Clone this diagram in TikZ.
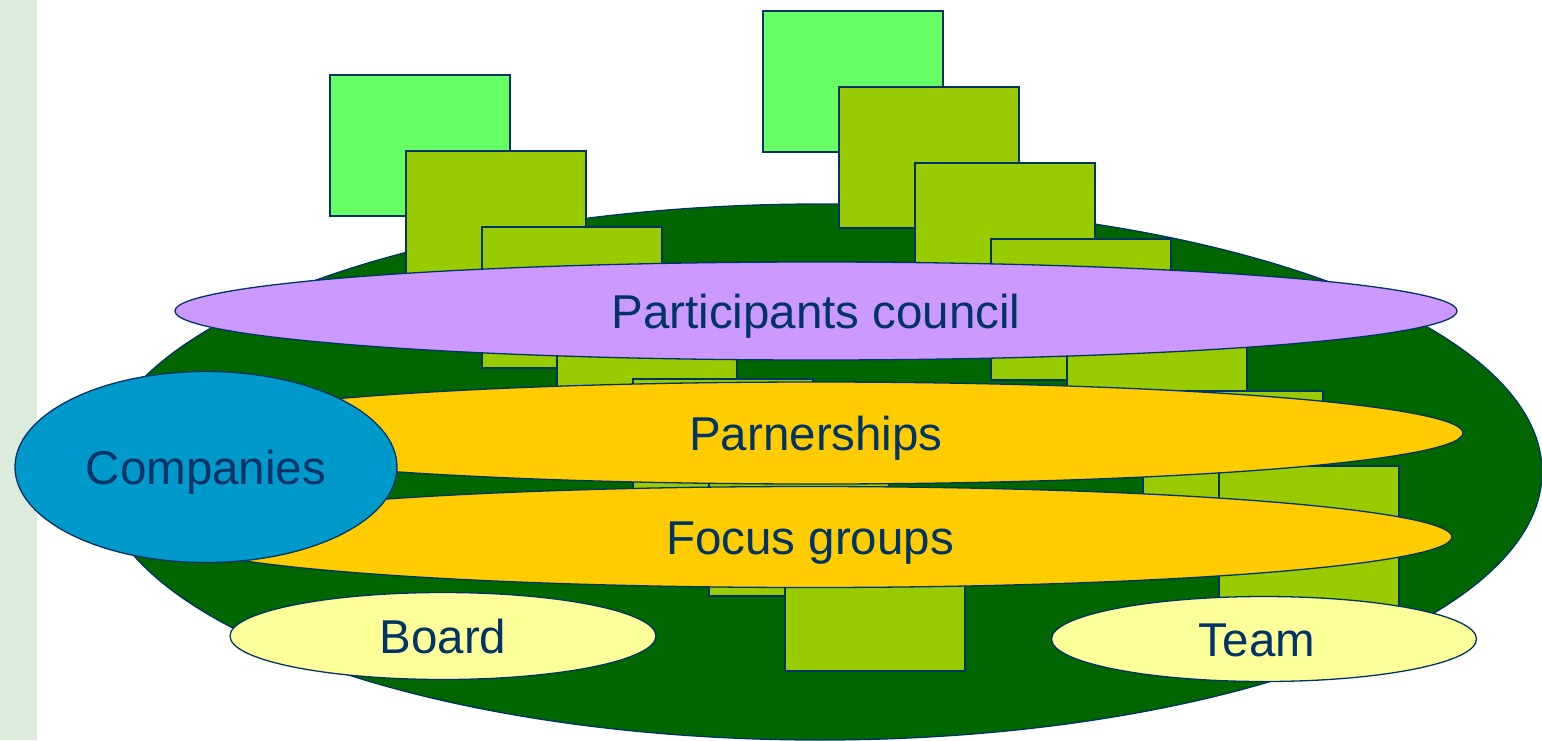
\documentclass[tikz,border=0pt]{standalone}
\usepackage{fontspec}
\setmainfont{Liberation Sans}
\usetikzlibrary{shapes.geometric}
\definecolor{lgreen}{HTML}{66FF66}
\definecolor{ygreen}{HTML}{99CC00}
\definecolor{dgreen}{HTML}{006600}
\definecolor{lilac}{HTML}{CC99FF}
\definecolor{gold}{HTML}{FFCC00}
\definecolor{cblue}{HTML}{0099CC}
\definecolor{lyellow}{HTML}{FFFF99}
\definecolor{navy}{HTML}{003366}
\definecolor{strip}{HTML}{DCEBDC}
\tikzset{
  box/.style={draw=navy, line width=1.3pt, rectangle, anchor=north west, minimum width=180pt, minimum height=141pt, inner sep=0pt, outer sep=0pt},
  lbox/.style={box, fill=lgreen},
  ybox/.style={box, fill=ygreen},
  oval/.style={draw=navy, line width=1.3pt, ellipse, inner sep=0pt, outer sep=0pt, text=navy, font=\fontsize{47.5}{57}\selectfont, text height=34pt, text depth=0pt},
}
\begin{document}
\begin{tikzpicture}[x=1pt,y=-1pt]
\useasboundingbox (0,0) rectangle (1542,740);
\fill[white] (0,0) rectangle (1542,740);
\fill[strip] (0,0) rectangle (37,740);
% big dark green ellipse
\node[oval, fill=dgreen, minimum width=1444pt, minimum height=536pt] (base) at (820,472) {};
% left cascade
\node[lbox] (a1) at (330,75) {};
\node[ybox] (a2) at (406,151) {};
\node[ybox] (a3) at (482,227) {};
\node[ybox] (a4) at (557,303) {};
\node[ybox] (a5) at (633,379) {};
\node[ybox] (a6) at (709,455) {};
\node[ybox] (a7) at (785,530) {};
% right cascade
\node[lbox] (b1) at (763,11) {};
\node[ybox] (b2) at (839,87) {};
\node[ybox] (b3) at (915,163) {};
\node[ybox] (b4) at (991,239) {};
\node[ybox] (b5) at (1067,315) {};
\node[ybox] (b6) at (1143,391) {};
\node[ybox] (b7) at (1219,466) {};
% ellipses
\node[oval, fill=lilac, minimum width=1282pt, minimum height=98pt] (pc) at (816,311) {Participants council};
\node[oval, fill=gold, minimum width=1294pt, minimum height=102pt] (pa) at (816,433) {Parnerships};
\node[oval, fill=gold, minimum width=1284pt, minimum height=101pt] (fg) at (810,537) {Focus groups};
\node[oval, fill=cblue, minimum width=382pt, minimum height=191pt] (co) at (206,467) {Companies};
\node[oval, fill=lyellow, minimum width=426pt, minimum height=87pt] (bo) at (443,636) {Board};
\node[oval, fill=lyellow, minimum width=425pt, minimum height=85pt] (te) at (1264,639) {\hspace*{-14pt}Team};
\end{tikzpicture}
\end{document}
